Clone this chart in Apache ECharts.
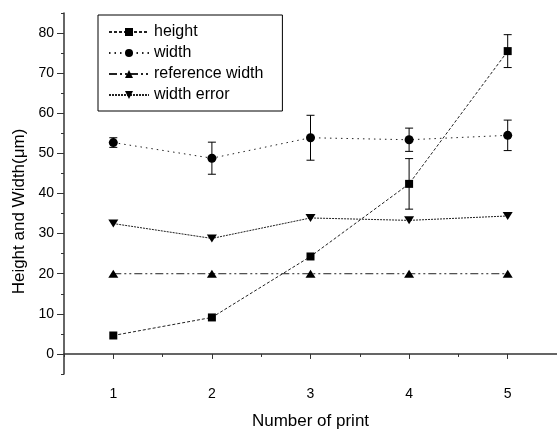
<!DOCTYPE html>
<html><head><meta charset="utf-8">
<script src="https://cdn.jsdelivr.net/npm/echarts@6/dist/echarts.min.js"></script>
<style>html,body{margin:0;padding:0;background:#fff}#c{width:557px;height:435px}</style>
</head><body><div id="c"></div>
<script>
var prints = [1, 2, 3, 4, 5];
var heightVals = [4.6, 9.1, 24.3, 42.4, 75.5];
var heightErr = [0, 0, 0, 6.3, 4.1];
var widthVals = [52.7, 48.8, 53.9, 53.4, 54.5];
var widthErr = [1.2, 4.0, 5.6, 2.9, 3.8];
var refWidthVals = [20, 20, 20, 20, 20];
var widthErrorVals = [32.5, 28.8, 33.9, 33.3, 34.4];
var xMajorTicks = [1, 2, 3, 4, 5];
var xMinorTicks = [0.5, 1.5, 2.5, 3.5, 4.5, 5.5];
var yMajorTicks = [0, 10, 20, 30, 40, 50, 60, 70, 80];
var yMinorTicks = [-5, 5, 15, 25, 35, 45, 55, 65, 75, 85];

var FONT = '"Liberation Sans", Arial, sans-serif';
var chart = echarts.init(document.getElementById('c'), null, {renderer: 'canvas'});

function pairs(vals) { return prints.map(function (x, i) { return [x, vals[i]]; }); }
function errData(vals, errs) {
  var out = [];
  prints.forEach(function (x, i) { if (errs[i] > 0) out.push([x, vals[i] - errs[i], vals[i] + errs[i]]); });
  return out;
}
function errRender(params, api) {
  var x = api.value(0);
  var lo = api.coord([x, api.value(1)]);
  var hi = api.coord([x, api.value(2)]);
  var w = 4;
  var st = {stroke: '#000', lineWidth: 1};
  return {type: 'group', children: [
    {type: 'line', shape: {x1: lo[0], y1: lo[1], x2: hi[0], y2: hi[1]}, style: st},
    {type: 'line', shape: {x1: lo[0] - w, y1: lo[1], x2: lo[0] + w, y2: lo[1]}, style: st},
    {type: 'line', shape: {x1: hi[0] - w, y1: hi[1], x2: hi[0] + w, y2: hi[1]}, style: st}
  ]};
}
function lineSeries(name, vals, symbol, size, dash) {
  return {
    name: name, type: 'line', data: pairs(vals), symbol: symbol, symbolSize: size,
    showSymbol: true,
    itemStyle: {color: '#000'},
    lineStyle: {color: '#222', width: 1, type: dash},
    emphasis: {disabled: true}, z: 3
  };
}
var triDown = 'path://M0,0 L10,0 L5,8 Z';
var triUp = 'path://M5,0 L10,8 L0,8 Z';

chart.setOption({
  animation: false,
  backgroundColor: '#fff',
  grid: {left: 64, top: 13, width: 494, height: 369, containLabel: false},
  legend: {
    orient: 'vertical', left: 98, top: 15,
    backgroundColor: '#fff', borderColor: '#000', borderWidth: 1,
    padding: [9, 19, 8, 10], itemGap: 5, itemWidth: 40, itemHeight: 10,
    textStyle: {fontFamily: FONT, fontSize: 16, color: '#000'},
    data: ['height', 'width', 'reference width', 'width error']
  },
  xAxis: [{
    type: 'value', min: 0.5, max: 5.5,
    axisLine: {show: true, lineStyle: {color: '#333', width: 1.5}},
    axisTick: {show: true, inside: false, length: 5, customValues: xMajorTicks, lineStyle: {color: '#333'}},
    axisLabel: {customValues: xMajorTicks, fontFamily: FONT, fontSize: 14, color: '#000', margin: 13},
    splitLine: {show: false},
    name: 'Number of print', nameLocation: 'middle', nameGap: 39,
    nameTextStyle: {fontFamily: FONT, fontSize: 17, color: '#000'}
  }, {
    type: 'value', min: 0.5, max: 5.5, position: 'bottom',
    axisLine: {show: false},
    axisTick: {show: true, length: 3, customValues: xMinorTicks, lineStyle: {color: '#333'}},
    axisLabel: {show: false}, splitLine: {show: false}
  }],
  yAxis: [{
    type: 'value', min: -5, max: 85,
    axisLine: {show: true, lineStyle: {color: '#333', width: 1.5}},
    axisTick: {show: true, length: 7, customValues: yMajorTicks, lineStyle: {color: '#333'}},
    axisLabel: {customValues: yMajorTicks, fontFamily: FONT, fontSize: 14, color: '#000', margin: 10},
    splitLine: {show: false},
    name: 'Height and Width(\u03bcm)', nameLocation: 'middle', nameGap: 36, nameRotate: 90,
    nameTextStyle: {fontFamily: FONT, fontSize: 17, color: '#000', padding: [0, 36, 0, 0]}
  }, {
    type: 'value', min: -5, max: 85, position: 'left',
    axisLine: {show: false},
    axisTick: {show: true, length: 3, customValues: yMinorTicks, lineStyle: {color: '#333'}},
    axisLabel: {show: false}, splitLine: {show: false}
  }],
  series: [
    lineSeries('height', heightVals, 'rect', 8, [3, 2]),
    lineSeries('width', widthVals, 'circle', 9, [1.5, 4]),
    lineSeries('reference width', refWidthVals, triUp, [10, 8], [8, 3, 2, 3, 2, 3]),
    lineSeries('width error', widthErrorVals, triDown, [10, 8], [2, 1]),
    {type: 'custom', renderItem: errRender, data: errData(heightVals, heightErr), z: 2, silent: true},
    {type: 'custom', renderItem: errRender, data: errData(widthVals, widthErr), z: 2, silent: true}
  ]
});
</script></body></html>
